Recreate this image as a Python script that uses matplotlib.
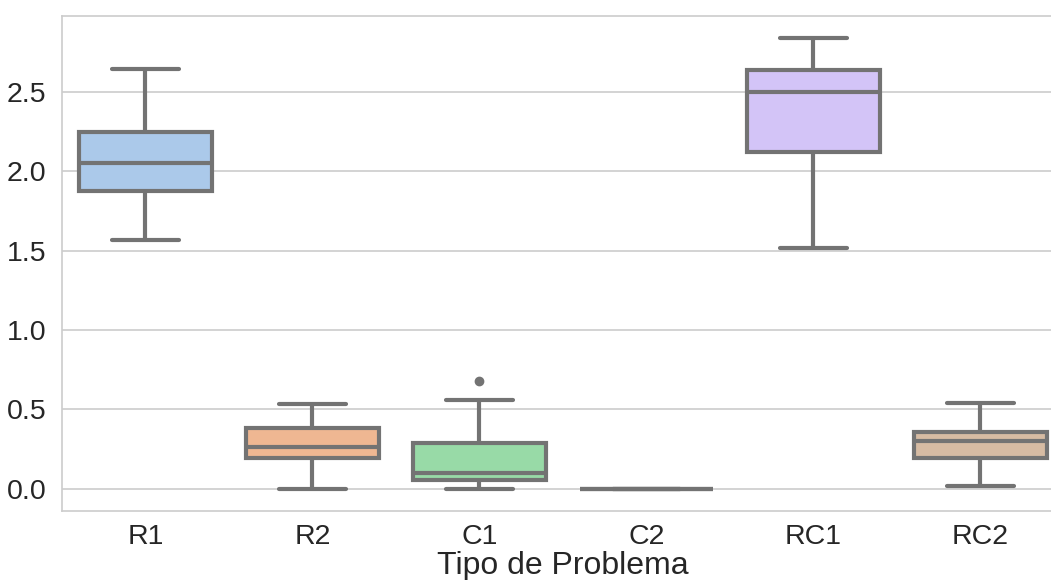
import matplotlib
matplotlib.use("Agg")
import matplotlib.pyplot as plt
import seaborn as sns

# problem types and box statistics
categories = ["R1", "R2", "C1", "C2", "RC1", "RC2"]
whislo = [1.57, 0.0, 0.0, 0.0, 1.52, 0.015]
q1 = [1.877, 0.195, 0.057, 0.0, 2.12, 0.195]
med = [2.053, 0.264, 0.10, 0.0, 2.50, 0.30]
q3 = [2.248, 0.384, 0.29, 0.0, 2.64, 0.36]
whishi = [2.645, 0.535, 0.56, 0.0, 2.84, 0.54]
fliers = [[], [], [0.68], [], [], []]

sns.set_theme(style="whitegrid")
plt.rcParams['font.family'] = ['Liberation Sans', 'DejaVu Sans']

stats = []
for i in range(len(categories)):
    stats.append({'label': categories[i], 'whislo': whislo[i], 'q1': q1[i],
                  'med': med[i], 'q3': q3[i], 'whishi': whishi[i],
                  'fliers': fliers[i]})

colors = sns.color_palette("pastel", 6, desat=0.75)
gray = "#737373"
lw = 3

fig = plt.figure(figsize=(10.51, 5.8), dpi=100)
ax = fig.add_axes([62 / 1051, 69 / 580, 1002 / 1051, 495 / 580])

bp = ax.bxp(stats, positions=range(len(categories)), widths=0.8,
            patch_artist=True, showfliers=True,
            boxprops=dict(edgecolor=gray, linewidth=lw),
            medianprops=dict(color=gray, linewidth=lw),
            whiskerprops=dict(color=gray, linewidth=lw),
            capprops=dict(color=gray, linewidth=lw, solid_capstyle='round'),
            flierprops=dict(marker='o', markerfacecolor=gray, markeredgecolor=gray,
                            markersize=6))
for patch, c in zip(bp['boxes'], colors):
    patch.set_facecolor(c)
# caps are half as wide as the boxes
for cap in bp['caps']:
    x0, x1 = cap.get_xdata()
    xm = (x0 + x1) / 2
    cap.set_xdata([xm - 0.2, xm + 0.2])

ax.set_xlim(-0.5, 5.5)
ax.set_ylim(-0.14, 2.98)
ax.set_yticks([0.0, 0.5, 1.0, 1.5, 2.0, 2.5])
ax.set_yticklabels(["0.0", "0.5", "1.0", "1.5", "2.0", "2.5"])
ax.set_xticks(range(len(categories)))
ax.set_xticklabels(categories)
ax.tick_params(axis='y', labelsize=20.5, colors='#262626', pad=5)
ax.tick_params(axis='x', labelsize=20.5, colors='#262626', pad=3)
ax.xaxis.grid(False)
ax.yaxis.grid(True, color='#cccccc', linewidth=1.2)
for s in ax.spines.values():
    s.set_color('#cccccc')
    s.set_linewidth(1.2)
ax.set_xlabel("Tipo de Problema", fontsize=23, color='#262626', labelpad=1)

plt.savefig("out.png", dpi=100)
